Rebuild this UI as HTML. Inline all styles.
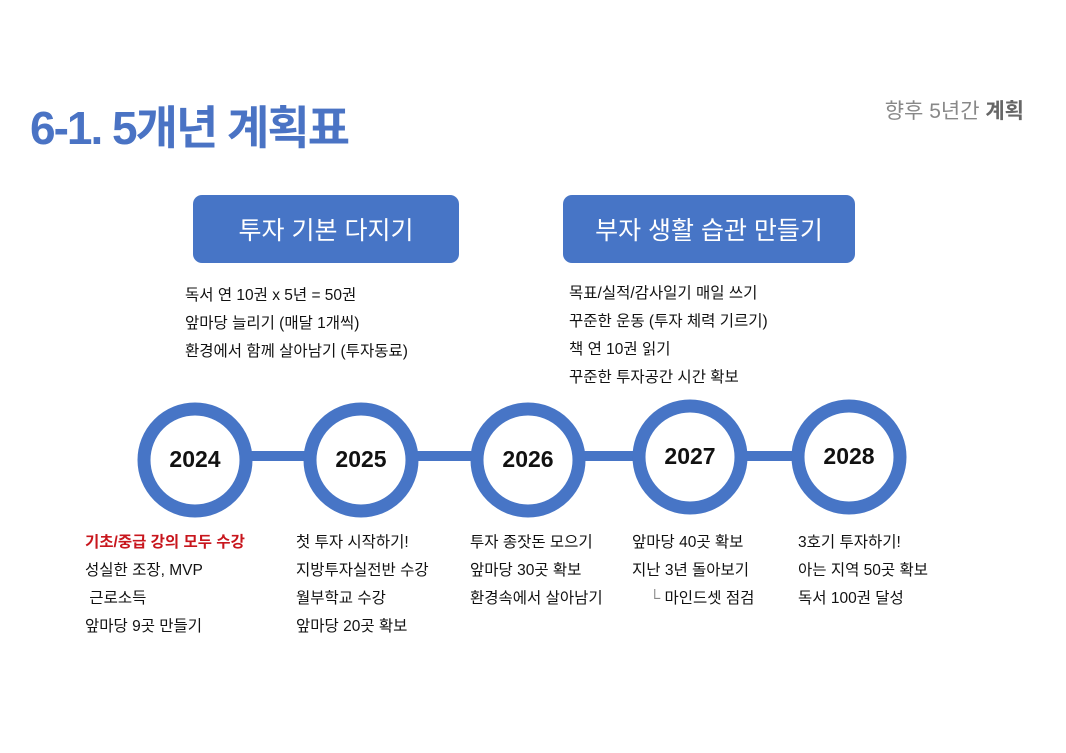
<!DOCTYPE html>
<html><head><meta charset="utf-8"><style>
body{margin:0;width:1066px;height:753px;background:#fff;position:relative;overflow:hidden;font-family:"Liberation Sans","Noto Sans CJK KR",sans-serif;}
.t{position:absolute;white-space:nowrap;}
.title{left:30px;top:92px;font-size:46px;font-weight:bold;color:#4a73c4;letter-spacing:-2px;}
.sub{right:42px;top:95px;font-size:21px;color:#888;}
.box{position:absolute;background:#4775c6;color:#fff;border-radius:9px;font-size:25px;display:flex;align-items:center;justify-content:center;}
.l{font-size:15.5px;color:#111;line-height:28px;}
.y{font-size:23px;color:#111;font-weight:bold;width:100px;text-align:center;}
</style></head><body>
<div class="t title">6-1. 5개년 계획표</div>
<div class="t sub">향후 5년간 <b style="color:#666">계획</b></div>
<div class="box" style="left:193px;top:195px;width:266px;height:68px;">투자 기본 다지기</div>
<div class="box" style="left:563px;top:195px;width:292px;height:68px;">부자 생활 습관 만들기</div>
<div class="t l" style="left:185px;top:282px">독서 연 10권 x 5년 = 50권<br>앞마당 늘리기 (매달 1개씩)<br>환경에서 함께 살아남기 (투자동료)</div>
<div class="t l" style="left:569px;top:280px">목표/실적/감사일기 매일 쓰기<br>꾸준한 운동 (투자 체력 기르기)<br>책 연 10권 읽기<br>꾸준한 투자공간 시간 확보</div>
<svg style="position:absolute;left:0;top:0" width="1066" height="753">
<line x1="195" y1="456" x2="849" y2="456" stroke="#4775c6" stroke-width="10"/>
<g fill="#fff" stroke="#4775c6" stroke-width="13">
<circle cx="195" cy="460" r="51"/><circle cx="361" cy="460" r="51"/><circle cx="528" cy="460" r="51"/><circle cx="690" cy="457" r="51"/><circle cx="849" cy="457" r="51"/>
</g></svg>
<div class="t y" style="left:145px;top:446px">2024</div>
<div class="t y" style="left:311px;top:446px">2025</div>
<div class="t y" style="left:478px;top:446px">2026</div>
<div class="t y" style="left:640px;top:443px">2027</div>
<div class="t y" style="left:799px;top:443px">2028</div>
<div class="t l" style="left:85px;top:529px"><b style="color:#c8161d">기초/중급 강의 모두 수강</b><br>성실한 조장, MVP<br>&nbsp;근로소득<br>앞마당 9곳 만들기</div>
<div class="t l" style="left:296px;top:529px">첫 투자 시작하기!<br>지방투자실전반 수강<br>월부학교 수강<br>앞마당 20곳 확보</div>
<div class="t l" style="left:470px;top:529px">투자 종잣돈 모으기<br>앞마당 30곳 확보<br>환경속에서 살아남기</div>
<div class="t l" style="left:632px;top:529px">앞마당 40곳 확보<br>지난 3년 돌아보기<br>&nbsp;&nbsp;&nbsp;&nbsp;<span style="color:#888">└</span> 마인드셋 점검</div>
<div class="t l" style="left:798px;top:529px">3호기 투자하기!<br>아는 지역 50곳 확보<br>독서 100권 달성</div>
</body></html>
